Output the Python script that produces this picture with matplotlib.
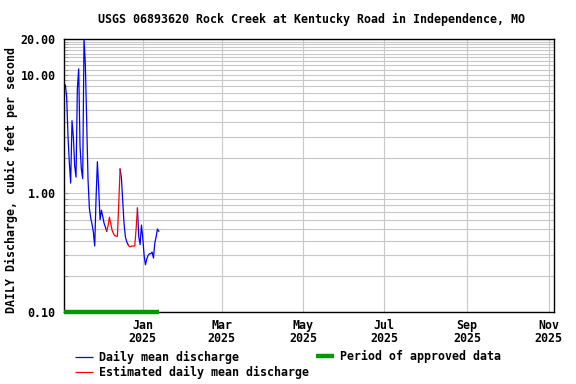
import numpy as np
import pandas as pd
import matplotlib
matplotlib.use("Agg")
import matplotlib.pyplot as plt
import matplotlib.dates as mdates
from matplotlib.lines import Line2D
from matplotlib.ticker import FixedLocator, NullFormatter

plt.rcParams['font.family'] = ['DejaVu Sans Mono']
plt.rcParams['font.weight'] = 'bold'
FS = 8.4

# daily mean discharge, cfs, starting 2024-11-04
start_date = "2024-11-04"
discharge = [8.2, 6.5, 3.0, 1.8, 1.22, 4.1, 3.0, 1.7, 1.37, 7.6,
             11.2, 2.5, 1.6, 1.33, 20.0, 12.0, 4.0, 1.3, 0.75, 0.62,
             0.55, 0.47, 0.36, 0.9, 1.85, 1.1, 0.6, 0.72, 0.64, 0.56,
             0.52, 0.48, 0.53, 0.63, 0.56, 0.49, 0.46, 0.44, 0.435, 0.435,
             0.82, 1.6, 1.35, 0.85, 0.55, 0.43, 0.39, 0.37, 0.355, 0.355,
             0.36, 0.36, 0.36, 0.5, 0.75, 0.43, 0.37, 0.54, 0.42, 0.3,
             0.25, 0.28, 0.30, 0.31, 0.31, 0.32, 0.285, 0.38, 0.43, 0.5,
             0.48]
# 'A' approved, 'E' estimated
qualifier = list("A" * 32 + "E" * 9 + "A" * 7 + "E" * 6 + "A" * 17)
approved_period = ("2024-11-03", "2025-01-13")
x_range = ("2024-11-03", "2025-11-05")
ytick_vals = [0.1, 1.0, 10.0, 20.0]
ytick_labels = ["0.10", "1.00", "10.00", "20.00"]
xtick_dates = ["2025-01-01", "2025-03-01", "2025-05-01", "2025-07-01", "2025-09-01", "2025-11-01"]
xtick_labels = ["Jan\n2025", "Mar\n2025", "May\n2025", "Jul\n2025", "Sep\n2025", "Nov\n2025"]

dates = pd.date_range(start_date, periods=len(discharge), freq="D")
q = np.array(discharge)
est = np.array([c == "E" for c in qualifier])

# blue: approved days only; red: estimated days plus their neighbours
blue = np.where(est, np.nan, q)
near_est = est.copy()
near_est[1:] |= est[:-1]
near_est[:-1] |= est[1:]
red = np.where(near_est, q, np.nan)

W, H = 576, 384
fig = plt.figure(figsize=(W / 100, H / 100), dpi=100)
ax = fig.add_axes([64 / W, 1 - 312 / H, 490 / W, 273 / H])

ax.plot(dates, blue, color="#0000ff", lw=0.9)
ax.plot(dates, red, color="#ff0000", lw=0.9)
ax.plot(pd.to_datetime(list(approved_period)), [0.1, 0.1], color="#009900",
        lw=3.2, solid_capstyle="butt", clip_on=False, zorder=5)

ax.set_yscale("log")
ax.set_ylim(0.1, 20)
ax.set_xlim(pd.to_datetime(x_range[0]), pd.to_datetime(x_range[1]))

ax.yaxis.set_major_locator(FixedLocator(ytick_vals))
ax.set_yticklabels(ytick_labels, fontsize=FS, fontweight="bold")
minor = [m * d for d in (0.1, 1.0) for m in range(2, 10)] + list(range(11, 20))
ax.yaxis.set_minor_locator(FixedLocator(minor))
ax.yaxis.set_minor_formatter(NullFormatter())
ax.tick_params(axis="y", which="both", direction="in", length=3, pad=6, color="#999999")

xt = pd.to_datetime(xtick_dates)
ax.set_xticks(xt)
ax.set_xticklabels(xtick_labels, fontsize=FS, fontweight="bold", linespacing=1.0)
ax.tick_params(axis="x", length=0, pad=5)

ax.grid(True, which="both", axis="y", color="#c8c8c8", lw=0.8)
ax.grid(True, which="major", axis="x", color="#c8c8c8", lw=0.8)
ax.set_axisbelow(True)
for s in ax.spines.values():
    s.set_color("black")
    s.set_linewidth(1.0)

fig.text(311 / W, 1 - 19 / H, "USGS 06893620 Rock Creek at Kentucky Road in Independence, MO",
         ha="center", va="center", fontsize=FS, fontweight="bold")
fig.text(11 / W, 1 - 180 / H, "DAILY Discharge, cubic feet per second",
         ha="center", va="center", rotation=90, fontsize=FS, fontweight="bold")

# legend
def legend_item(x0, y, color, lw, label):
    fig.add_artist(Line2D([x0 / W, (x0 + 18) / W], [1 - y / H, 1 - y / H],
                          transform=fig.transFigure, color=color, lw=lw,
                          solid_capstyle="butt"))
    fig.text((x0 + 24) / W, 1 - y / H, label, ha="left", va="center",
             fontsize=FS, fontweight="bold")

legend_item(75, 357, "#0000ff", 0.9, "Daily mean discharge")
legend_item(75, 372, "#ff0000", 0.9, "Estimated daily mean discharge")
legend_item(316, 356, "#009900", 3.2, "Period of approved data")

fig.savefig("out.png", dpi=100)
